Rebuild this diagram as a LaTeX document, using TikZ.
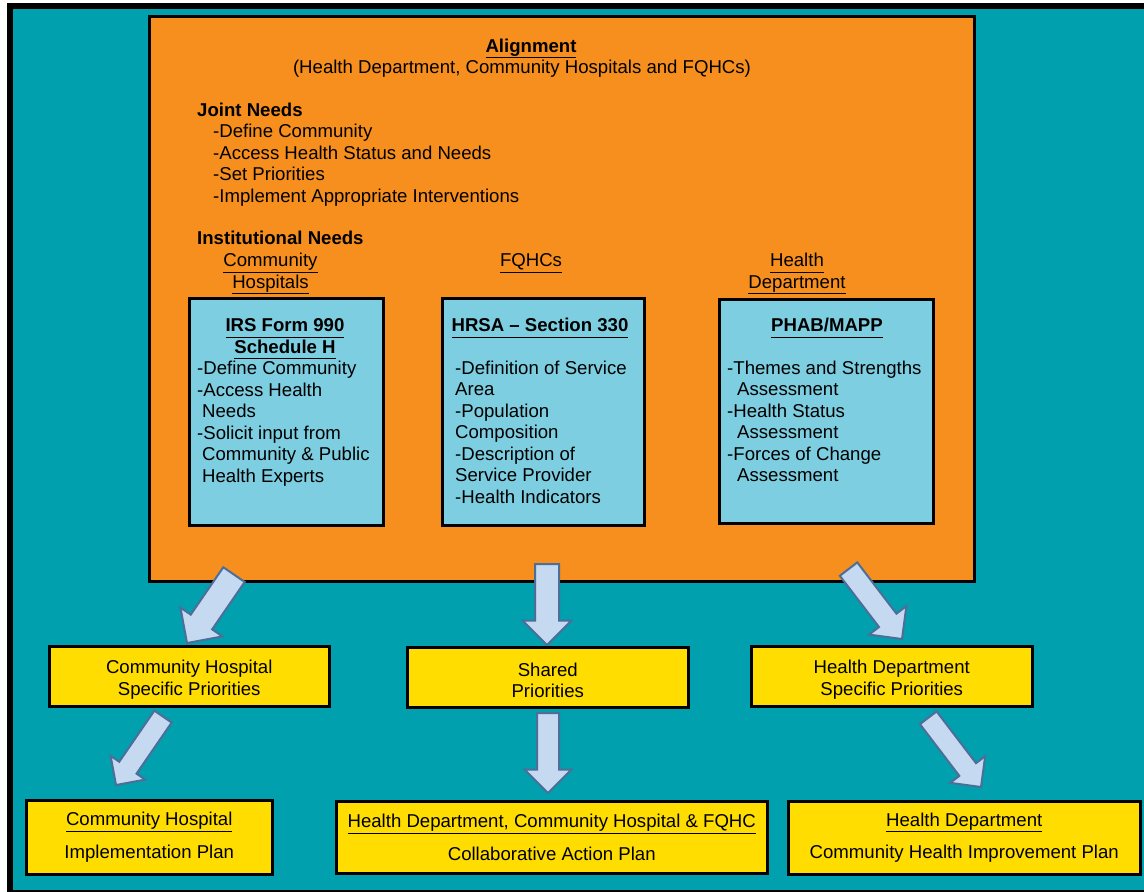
\documentclass[tikz,border=0pt]{standalone}
\usepackage{fontspec}
\setmainfont{Liberation Sans}
\usetikzlibrary{positioning}
\definecolor{mteal}{RGB}{0,160,175}
\definecolor{morange}{RGB}{247,143,30}
\definecolor{mblue}{RGB}{125,206,224}
\definecolor{myellow}{RGB}{255,221,0}
\definecolor{marrowfill}{RGB}{197,217,240}
\definecolor{marrowline}{RGB}{76,110,152}
\newcommand{\undl}[1]{\underline{#1\vphantom{y}}}
\newcommand{\tallstrut}{\rule{0pt}{20pt}}
\tikzset{
  txt/.style={font=\fontsize{18.6}{21.5}\selectfont, inner sep=0pt},
  bluebox/.style={draw=black, line width=2.5pt, fill=mblue, inner sep=0pt, anchor=north west},
  yellowbox/.style={draw=black, line width=2.5pt, fill=myellow, inner sep=0pt, anchor=north west,
    align=center, font=\fontsize{18.6}{21.5}\selectfont},
  priobox/.style={yellowbox, minimum width=281, minimum height=60},
  pics/blockarrow/.style n args={3}{code={
    \draw[fill=marrowfill, draw=marrowline, line width=2pt]
      (0,0) -- (-#3,#3) -- (-#3,#2) -- (-#1,#2) -- (-#1,-#2) -- (-#3,-#2) -- (-#3,-#3) -- cycle;
  }},
}

\begin{document}
\begin{tikzpicture}[x=1pt, y=-1pt]
    \useasboundingbox (0,0) rectangle (1144,892);
    \clip (0,0) rectangle (1144,892);
    \draw [fill=mteal, line width=6pt] (10,6) rectangle (1160,893);

    % alignment box
    \node [draw=black, line width=2.5pt, fill=morange, inner sep=0pt, anchor=north west,
      minimum width=825, minimum height=565] (alignbox) at (148,15) {};
    \node [txt, anchor=base] (aligntitle) at (531,52) {\textbf{\undl{Alignment}}};
    \node [txt, anchor=base] (alignsub) at (522,73) {(Health Department, Community Hospitals and FQHCs)};

    % base of a multi-line node = its last line
    \node [txt, anchor=base west] (jointtitle) at (197,116) {\textbf{Joint Needs}};
    \node [txt, anchor=base west, align=left] (jointlist) at (213,202)
      {-Define Community\\-Access Health Status and Needs\\-Set Priorities\\-Implement Appropriate Interventions};
    \node [txt, anchor=base west] (insttitle) at (197,244.5) {\textbf{Institutional Needs}};

    \node [txt, anchor=base, align=center] (chhead) at (270.5,288) {\undl{Community}\\\undl{Hospitals}};
    \node [txt, anchor=base] (fqhead) at (531,266.5) {\undl{FQHCs}};
    \node [txt, anchor=base, align=center] (hdhead) at (797,288) {\undl{Health}\\\undl{Department}};

    % institutional boxes
    \node [bluebox, minimum width=194, minimum height=227] (irsbox) at (188,297) {};
    \node [bluebox, minimum width=202, minimum height=227] (hrsabox) at (441,297) {};
    \node [bluebox, minimum width=214, minimum height=224] (phabbox) at (718,298) {};

    \node [txt, anchor=base, align=center] (irstitle) at (285,353)
      {\textbf{\undl{IRS Form 990}}\\\textbf{\undl{Schedule H}}};
    \node [txt, anchor=base west, align=left] (irslist) at (197,482)
      {-Define Community\\-Access Health\\\hspace*{5pt}Needs\\-Solicit input from\\\hspace*{5pt}Community \& Public\\\hspace*{5pt}Health Experts};

    \node [txt, anchor=base] (hrsatitle) at (540,331.5) {\textbf{\undl{HRSA -- Section 330}}};
    \node [txt, anchor=base west, align=left] (hrsalist) at (455,503)
      {-Definition of Service\\Area\\-Population\\Composition\\-Description of\\Service Provider\\-Health Indicators};

    \node [txt, anchor=base] (phabtitle) at (827,331.5) {\textbf{\undl{PHAB/MAPP}}};
    \node [txt, anchor=base west, align=left] (phablist) at (727,481.5)
      {-Themes and Strengths\\\hspace*{10pt}Assessment\\-Health Status\\\hspace*{10pt}Assessment\\-Forces of Change\\\hspace*{10pt}Assessment};

    % priorities
    \node [priobox, minimum width=280] (chprio) at (48,645) {\tallstrut Community Hospital\\Specific Priorities};
    \node [priobox] (shprio) at (406,646) {\tallstrut Shared\\Priorities};
    \node [priobox] (hdprio) at (750,645) {\tallstrut Health Department\\Specific Priorities};

    % plans
    \node [yellowbox, minimum width=246, minimum height=74] (chplan) at (25,799)
      {\undl{Community Hospital}\\[11pt]Implementation Plan};
    \node [yellowbox, minimum width=431, minimum height=72] (collplan) at (335,800)
      {\undl{Health Department, Community Hospital \& FQHC}\\[11pt]Collaborative Action Plan};
    \node [yellowbox, minimum width=352, minimum height=73] (hdplan) at (787,800)
      {\undl{Health Department}\\[11pt]Community Health Improvement Plan};

    % block arrows
    \pic [rotate=-124.5] at (187,643) {blockarrow={83}{13}{25.5}};
    \pic [rotate=-90] at (547,645) {blockarrow={81}{12}{24.5}};
    \pic [rotate=-52.6] at (902,639) {blockarrow={88}{11}{23.5}};
    \pic [rotate=-124.5] at (116,785) {blockarrow={83}{10.5}{21}};
    \pic [rotate=-90] at (548,793) {blockarrow={80}{11}{23.5}};
    \pic [rotate=-52.7] at (981,787) {blockarrow={87}{10.5}{22}};
\end{tikzpicture}
\end{document}
